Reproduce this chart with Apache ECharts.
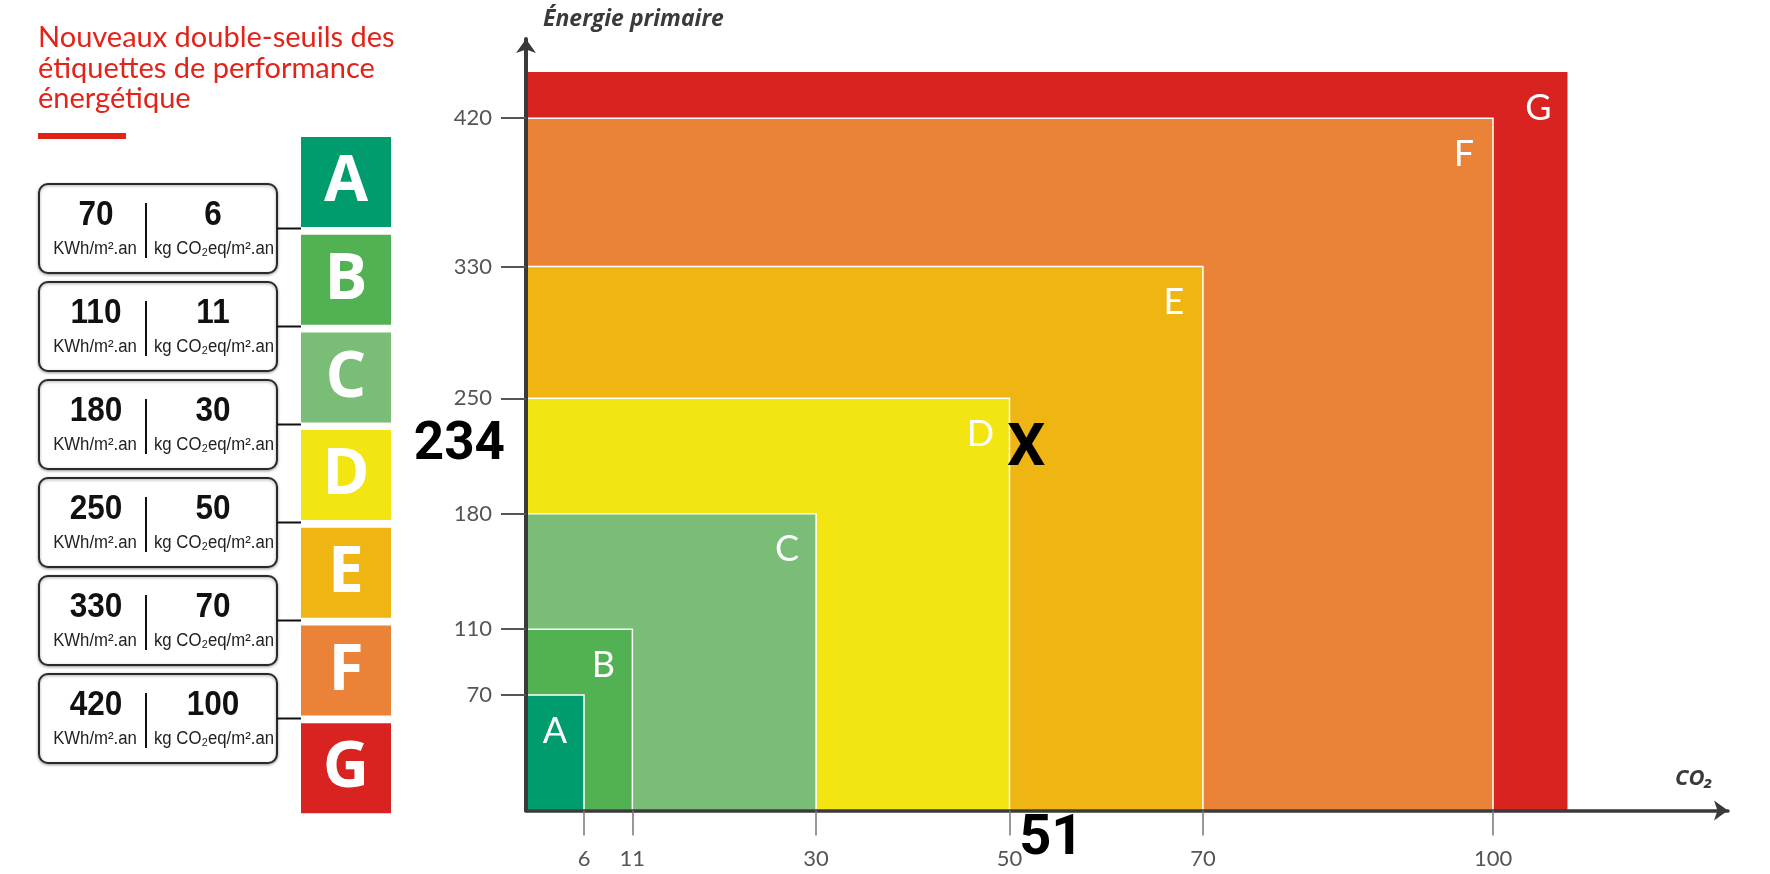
<!DOCTYPE html>
<html>
<head>
<meta charset="utf-8">
<script src="https://cdn.jsdelivr.net/npm/echarts@6/dist/echarts.min.js"></script>
<style>
html,body{margin:0;padding:0;background:#fff;}
#chart{width:1770px;height:874px;}
</style>
</head>
<body>
<div id="chart"></div>
<script>
// ---- data ----
const classes = ['A','B','C','D','E','F','G'];
const classColors = ['#009C6D','#52B153','#79BD77','#F2E511','#EEB513','#EA8237','#D82321'];
const energyThresholds = [70,110,180,250,330,420];      // kWh/m².an
const co2Thresholds = [6,11,30,50,70,100];              // kg CO2eq/m².an
const rectCo2Max = [6,11,30,50,70,100,107.7];           // right edge of each class zone
const rectEnergyMax = [70,110,180,250,330,420,448];     // top edge of each class zone
const xTickValues = [6,11,30,50,70,100];
const yTickValues = [70,110,180,250,330,420];
const pointCo2 = 51;
const pointEnergy = 234;
const titleLines = ['Nouveaux double-seuils des','étiquettes de performance','énergétique'];
const energyUnit = 'KWh/m².an';
const co2Unit = 'kg CO₂eq/m².an';

const chart = echarts.init(document.getElementById('chart'), null, {renderer:'canvas'});

// ---- left panel (graphic) ----
const narrowBold = 'bold 35px "Liberation Sans", Arial, sans-serif';
const narrowReg = '18px "Liberation Sans", Arial, sans-serif';
const graphics = [];
titleLines.forEach((t,i)=>{
  graphics.push({type:'text', x:38, y:38 + i*30.5,
    style:{text:t, font:'29px Lato', fill:'#E2231A', verticalAlign:'middle', align:'left'}});
});
graphics.push({type:'rect', shape:{x:38,y:133,width:88,height:6}, style:{fill:'#E2231A'}});
classes.forEach((c,i)=>{
  const top = 137 + i*97.7;
  graphics.push({type:'rect', shape:{x:301,y:top,width:90,height:90}, style:{fill:classColors[i]}});
  graphics.push({type:'text', x:346, y:top+46,
    style:{text:c, font:'bold 64px "Open Sans"', fill:'#fff', align:'center', verticalAlign:'middle'}});
});
energyThresholds.forEach((e,i)=>{
  const top = 184 + i*98;
  graphics.push({type:'rect', shape:{x:39,y:top,width:238,height:89,r:9},
    style:{fill:'#fff', stroke:'#2a2a2a', lineWidth:2, shadowBlur:3, shadowColor:'rgba(0,0,0,0.35)', shadowOffsetY:1}});
  graphics.push({type:'line', shape:{x1:277,y1:top+44.5,x2:301,y2:top+44.5}, style:{stroke:'#111', lineWidth:2}});
  graphics.push({type:'line', shape:{x1:146,y1:top+19,x2:146,y2:top+74}, style:{stroke:'#111', lineWidth:2}});
  graphics.push({type:'text', x:96, y:top+31, scaleX:0.9,
    style:{text:String(e), font:narrowBold, fill:'#111', align:'center', verticalAlign:'middle'}});
  graphics.push({type:'text', x:213, y:top+31, scaleX:0.9,
    style:{text:String(co2Thresholds[i]), font:narrowBold, fill:'#111', align:'center', verticalAlign:'middle'}});
  graphics.push({type:'text', x:95, y:top+65, scaleX:0.93,
    style:{text:energyUnit, font:narrowReg, fill:'#222', align:'center', verticalAlign:'middle'}});
  graphics.push({type:'text', x:214, y:top+65, scaleX:0.93,
    style:{text:co2Unit, font:narrowReg, fill:'#222', align:'center', verticalAlign:'middle'}});
});

// zone data, biggest first so smaller ones are on top
const zoneData = classes.map((c,i)=>({value:[rectCo2Max[i], rectEnergyMax[i]], name:c, color:classColors[i]})).reverse();

const option = {
  animation:false,
  backgroundColor:'#fff',
  graphic: graphics,
  grid:{left:526, top:39, width:1202, height:771.5, containLabel:false},
  xAxis:{
    type:'value', min:0, max:124.3, z:10,
    name:'CO₂', nameLocation:'end', nameGap:-34,
    nameTextStyle:{fontFamily:'Open Sans', fontWeight:'bold', fontStyle:'italic', fontSize:22, color:'#3a3a3a', align:'center', verticalAlign:'bottom', padding:[0,0,21,0]},
    axisLine:{show:true, symbol:['none','arrow'], symbolSize:[15,14], lineStyle:{color:'#3a3a3a', width:3.5}},
    axisTick:{show:true, customValues:xTickValues, length:25, lineStyle:{color:'#777', width:1.5}},
    axisLabel:{show:true, customValues:xTickValues, margin:37, fontFamily:'Lato', fontSize:22, color:'#555'},
    splitLine:{show:false}
  },
  yAxis:{
    type:'value', min:0, max:468, z:10,
    name:'Énergie primaire', nameLocation:'end', nameGap:8,
    nameTextStyle:{fontFamily:'Open Sans', fontWeight:'bold', fontStyle:'italic', fontSize:23, color:'#3a3a3a', align:'left', verticalAlign:'bottom', padding:[0,0,0,17]},
    axisLine:{show:true, symbol:['none','arrow'], symbolSize:[15,14], lineStyle:{color:'#3a3a3a', width:4}},
    axisTick:{show:true, customValues:yTickValues, length:25, lineStyle:{color:'#555', width:2}},
    axisLabel:{show:true, customValues:yTickValues, margin:34, fontFamily:'Lato', fontSize:22, color:'#555'},
    splitLine:{show:false}
  },
  series:[
    {
      type:'custom', z:2, silent:true,
      data: zoneData,
      renderItem:(params, api)=>{
        const d = zoneData[params.dataIndex];
        const o = api.coord([0,0]);
        const p = api.coord([api.value(0), api.value(1)]);
        const isOuter = d.name === 'G';
        return {type:'group', children:[
          {type:'rect', shape:{x:o[0], y:p[1], width:p[0]-o[0], height:o[1]-p[1]},
           style:{fill:d.color, stroke:isOuter?null:'#fff', lineWidth:isOuter?0:1.5}},
          {type:'text', x:p[0]-29, y:p[1]+36,
           style:{text:d.name, font:'36px Lato', fill:'#fff', align:'center', verticalAlign:'middle'}}
        ]};
      }
    },
    {
      type:'custom', z:20, silent:true,
      data:[[pointCo2, pointEnergy]],
      renderItem:(params, api)=>{
        const o = api.coord([0,0]);
        const p = api.coord([api.value(0), api.value(1)]);
        return {type:'group', children:[
          {type:'text', x:p[0]+7, y:p[1]+25,
           style:{text:'X', font:'bold 60px Roboto', fill:'#000', align:'center', verticalAlign:'middle'}},
          {type:'text', x:o[0]-21, y:p[1]+21,
           style:{text:String(api.value(1)), font:'bold 53px Roboto', fill:'#000', align:'right', verticalAlign:'middle',
                  shadowBlur:3, shadowColor:'rgba(0,0,0,0.25)', shadowOffsetY:2}},
          {type:'text', x:p[0], y:o[1]+29,
           style:{text:String(api.value(0)), font:'bold 56px Roboto', fill:'#000', align:'left', verticalAlign:'middle',
                  shadowBlur:3, shadowColor:'rgba(0,0,0,0.25)', shadowOffsetY:2}}
        ]};
      }
    }
  ]
};
chart.setOption(option);
</script>
</body>
</html>
